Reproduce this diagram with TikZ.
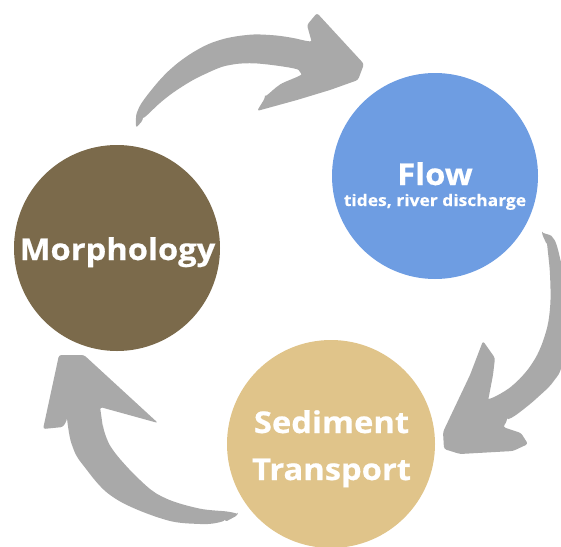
\documentclass[tikz,border=0pt]{standalone}
\usepackage{fontspec}
\setmainfont{Open Sans}[BoldFeatures={FakeStretch=1.09, FakeBold=0.6}]
\definecolor{morphbrown}{HTML}{7B6A4B}
\definecolor{flowblue}{HTML}{6E9DE2}
\definecolor{sedtan}{HTML}{E0C48A}
\definecolor{arrowgray}{HTML}{A9A9A9}
\begin{document}
\begin{tikzpicture}[x=1pt,y=-1pt,
  bubble/.style={circle, minimum size=206pt, inner sep=0pt, draw=none},
  bigtext/.style={text=white, inner sep=0pt, anchor=base, align=center,
    font=\fontsize{30}{47}\selectfont\bfseries},
  smalltext/.style={text=white, inner sep=0pt, anchor=base,
    font=\fontsize{16}{18}\selectfont\bfseries},
  cyclearrow/.style={fill=arrowgray, rounded corners=2.5pt}]

\useasboundingbox (0,0) rectangle (561,546);
\clip (0,0) rectangle (561,546);

% the three stages of the cycle
\node[bubble, fill=morphbrown] (morph) at (117,248) {};
\node[bubble, fill=flowblue]   (flow)  at (435,176) {};
\node[bubble, fill=sedtan, minimum size=208pt] (sed) at (331,444) {};

\node[bigtext] (morphlbl) at (117.5,260) {Morphology};
\node[bigtext] (flowlbl)  at (435,185) {Flow};
\node[smalltext] (flowsub) at (435,206) {tides, river discharge};
% a two-line node is anchored at the baseline of its last line
\node[bigtext] (sedlbl)   at (331.5,480) {Sediment\\Transport};

% curved arrow: Morphology -> Flow
\fill[cyclearrow]
  plot[smooth, tension=0.6] coordinates {(136,128) (138,110) (153,88) (173,67) (197,50) (220,40) (247,35) (270,35) (293,38) (312,43)}
  -- (307,25) -- (317,13) -- (364,64) -- (358,80) -- (330,90) -- (297,100) -- (257,111)
  -- plot[smooth, tension=0.6] coordinates {(265,98) (278,86) (300,72) (263,64) (230,65) (203,75) (180,88) (160,103) (143,120)}
  -- cycle;

% curved arrow: Flow -> Sediment Transport
\fill[cyclearrow]
  plot[smooth, tension=0.6] coordinates {(542,234) (553,238) (560,258) (565,290) (566,330) (562,365) (553,382) (537,398) (520,412) (507,421)}
  -- (503,427) -- (521,433) -- (528,444) -- (513,451) -- (460,454) -- (444,449) -- (443,432)
  -- (470,375) -- (483,341) -- (495,358) -- (493,375)
  -- plot[smooth, tension=0.6] coordinates {(488,401) (513,385) (533,362) (545,335) (550,308) (550,275) (547,245)}
  -- cycle;

% curved arrow: Sediment Transport -> Morphology
\fill[cyclearrow]
  plot[smooth, tension=0.6] coordinates {(238,515) (230,512) (197,508) (163,497) (140,480) (113,450) (103,428)}
  -- (100,407) -- (158,423) -- (84,355) -- (59,355) -- (45,420) -- (43,429) -- (63,427)
  -- plot[smooth, tension=0.6] coordinates {(67,420) (72,445) (83,465) (113,497) (163,519) (200,524) (225,522)}
  -- cycle;
\end{tikzpicture}
\end{document}
